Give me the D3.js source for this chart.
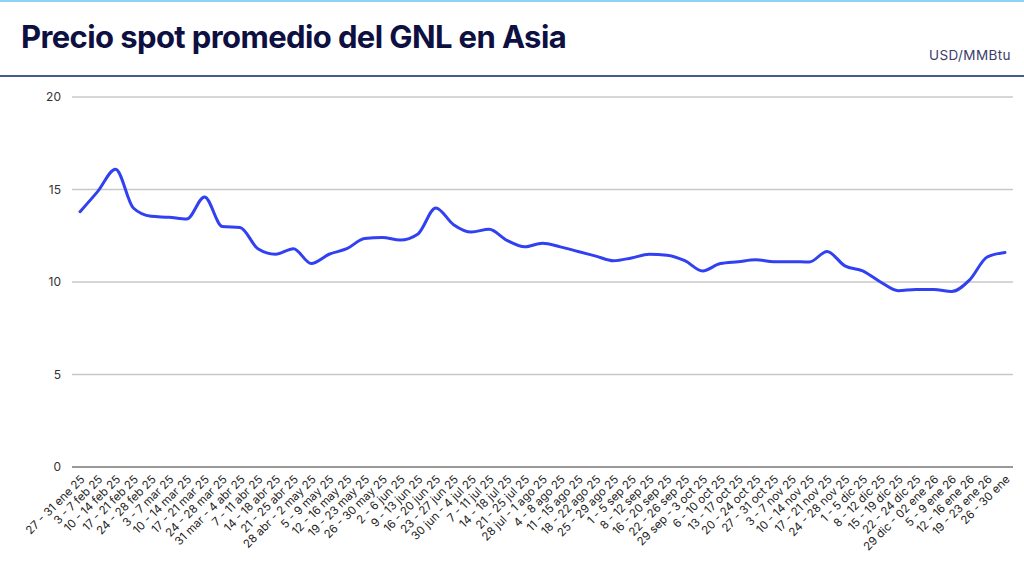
<!DOCTYPE html>
<html>
<head>
<meta charset="utf-8">
<script src="https://cdn.jsdelivr.net/npm/d3@7"></script>
<style>
  html, body { margin: 0; padding: 0; background: #fff; }
  svg { display: block; }
</style>
</head>
<body>
<svg id="chart" width="1024" height="568"></svg>
<script>
const titleText = "Precio spot promedio del GNL en Asia";
const unitText = "USD/MMBtu";
const categories = [
  "27 - 31 ene 25","3 - 7 feb 25","10 - 14 feb 25","17 - 21 feb 25","24 - 28 feb 25",
  "3 - 7 mar 25","10 - 14 mar 25","17 - 21 mar 25","24 - 28 mar 25","31 mar - 4 abr 25",
  "7 - 11 abr 25","14 - 18 abr 25","21 - 25 abr 25","28 abr - 2 may 25","5 - 9 may 25",
  "12 - 16 may 25","19 - 23 may 25","26 - 30 may 25","2 - 6 jun 25","9 - 13 jun 25",
  "16 - 20 jun 25","23 - 27 jun 25","30 jun - 4 jul 25","7 - 11 jul 25","14 - 18 jul 25",
  "21 - 25 jul 25","28 jul - 1 ago 25","4 - 8 ago 25","11 - 15 ago 25","18 - 22 ago 25",
  "25 - 29 ago 25","1 - 5 sep 25","8 - 12 sep 25","16 - 20 sep 25","22 - 26 sep 25",
  "29 sep - 3 oct 25","6 - 10 oct 25","13 - 17 oct 25","20 - 24 oct 25","27 - 31 oct 25",
  "3 - 7 nov 25","10 - 14 nov 25","17 - 21 nov 25","24 - 28 nov 25","1 - 5 dic 25",
  "8 - 12 dic 25","15 - 19 dic 25","22 - 24 dic 25","29 dic - 02 ene 26","5 - 9 ene 26",
  "12 - 16 ene 26","19 - 23 ene 26","26 - 30 ene"
];
const values = [
  13.8, 14.9, 16.1, 14.0, 13.55, 13.5, 13.4, 14.6, 13.0, 12.95,
  11.8, 11.5, 11.8, 11.0, 11.5, 11.8, 12.35, 12.4, 12.27, 12.6,
  14.0, 13.1, 12.7, 12.85, 12.25, 11.9, 12.1, 11.9, 11.65, 11.4,
  11.15, 11.3, 11.5, 11.45, 11.15, 10.6, 11.0, 11.1, 11.2, 11.1,
  11.1, 11.08, 11.65, 10.87, 10.6, 10.0, 9.53, 9.6, 9.6, 9.48,
  10.1, 11.35, 11.6
];
const yTicks = [0, 5, 10, 15, 20];

const svg = d3.select("#chart");
const W = 1024, H = 568;

// top light-blue rule
svg.append("rect").attr("x", 0).attr("y", 0).attr("width", W).attr("height", 2).attr("fill", "#8ed3f7");

// title
svg.append("text")
  .attr("x", 21).attr("y", 48)
  .attr("font-family", "Inter, 'Open Sans', sans-serif")
  .attr("font-weight", 700)
  .attr("font-size", 31)
  .attr("letter-spacing", -0.6)
  .attr("fill", "#0d1040")
  .text(titleText);

svg.append("text")
  .attr("x", 1011).attr("y", 60)
  .attr("text-anchor", "end")
  .attr("font-family", "Inter, 'Open Sans', sans-serif")
  .attr("font-size", 13.5)
  .attr("letter-spacing", 0.4)
  .attr("fill", "#3a3d6a")
  .text(unitText);

// header rule
svg.append("rect").attr("x", 0).attr("y", 75).attr("width", W).attr("height", 2).attr("fill", "#3e5f8a");

const margin = { left: 72, right: 1013, top: 97, bottom: 467 };
const x = d3.scalePoint().domain(categories).range([80, 1005]);
const y = d3.scaleLinear().domain([0, 20]).range([margin.bottom, margin.top]);

// gridlines
const grid = svg.append("g");
grid.selectAll("line").data(yTicks).join("line")
  .attr("x1", margin.left).attr("x2", margin.right)
  .attr("y1", d => y(d)).attr("y2", d => y(d))
  .attr("stroke", d => d === 0 ? "#777" : "#c8c8c8")
  .attr("stroke-width", d => d === 0 ? 1.5 : 1.3);

// y axis labels
const yAxis = svg.append("g").attr("transform", `translate(${margin.left - 11},0)`)
  .call(d3.axisLeft(y).tickValues(yTicks).tickSize(0).tickPadding(0));
yAxis.select(".domain").remove();
yAxis.selectAll("text")
  .attr("font-family", "Inter, 'Open Sans', sans-serif")
  .attr("font-size", 12)
  .attr("fill", "#333");

// x axis labels
const xAxis = svg.append("g").attr("transform", `translate(0,${margin.bottom})`)
  .call(d3.axisBottom(x).tickSize(0).tickPadding(0));
xAxis.select(".domain").remove();
xAxis.selectAll("text")
  .attr("font-family", "Inter, 'Open Sans', sans-serif")
  .attr("font-size", 11.5)
  .attr("fill", "#222")
  .attr("text-anchor", "end")
  .attr("dy", 0)
  .attr("transform", "translate(5,13) rotate(-45)");

// line
const line = d3.line()
  .x((d, i) => x(categories[i]))
  .y(d => y(d))
  .curve(d3.curveMonotoneX);

svg.append("path")
  .datum(values)
  .attr("d", line)
  .attr("fill", "none")
  .attr("stroke", "#3140f0")
  .attr("stroke-width", 3)
  .attr("stroke-linejoin", "round")
  .attr("stroke-linecap", "round");
</script>
</body>
</html>
